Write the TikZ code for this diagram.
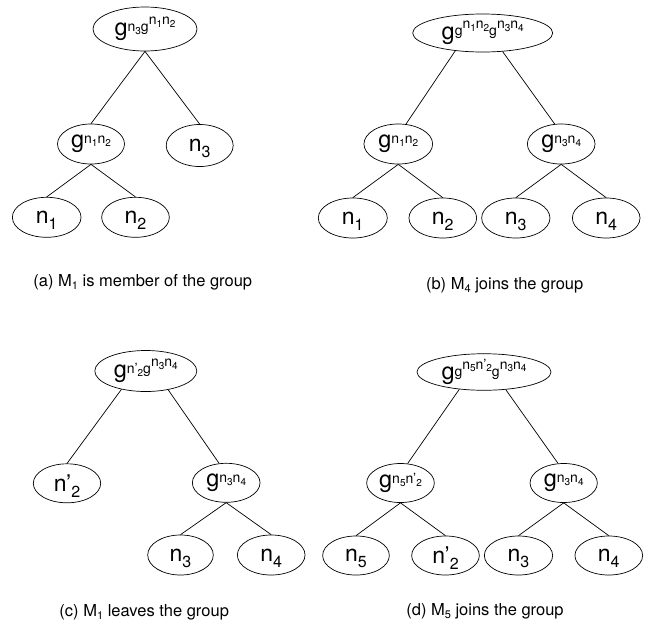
\documentclass[tikz,border=0pt]{standalone}
\usepackage{fontspec}
\setmainfont{TeX Gyre Heros}
\usetikzlibrary{shapes.geometric}
\newcommand\fBig{\fontsize{23.5}{23.5}\selectfont}
\newcommand\fSup{\fontsize{14}{14}\selectfont}
\newcommand\fTiny{\fontsize{10}{10}\selectfont}
\newcommand\fLeaf{\fontsize{23}{23}\selectfont}
\newcommand\fLsub{\fontsize{16}{16}\selectfont}
\newcommand\fCap{\fontsize{16.5}{16.5}\selectfont}
\newcommand\tsb[1]{\raisebox{-2.5pt}{\fTiny #1}}
\newcommand\lsb[1]{\raisebox{-6pt}{\fLsub #1}}
\newcommand\csb[1]{\raisebox{-3pt}{\fontsize{11}{11}\selectfont #1}}
\newcommand\prm{\textquoteright}
\newcommand\lvlB[1]{\raisebox{7pt}{\fSup #1}}
\tikzset{
  ell/.style 2 args={draw, ellipse, inner sep=0pt, line width=0.7pt,
    minimum width=#1pt, minimum height=#2pt},
  leaf/.style={text depth=0pt, font=\fLeaf},
  caplabel/.style={anchor=base, inner sep=0pt, font=\fCap},
  edge/.style={line width=0.7pt}
}
\begin{document}
\begin{tikzpicture}[x=1pt, y=-1pt]
\useasboundingbox (0,0) rectangle (657,625);
% ---------- (a)
\node[ell={104}{44}] (ra) at (145,29) {{\fBig g}\raisebox{3.5pt}{\fSup n\tsb{3}g\lvlB{n\tsb{1}n\tsb{2}}}};
\node[ell={67}{40}] (ga) at (91,144) {{\fBig g}\raisebox{4pt}{\fSup n\tsb{1}n\tsb{2}}};
\node[ell={67}{42}, leaf] (n3a) at (199.7,145.5) {n\lsb{3}};
\node[ell={68.7}{40}, leaf] (n1a) at (46.7,217.3) {n\lsb{1}};
\node[ell={67.7}{40}, leaf] (n2a) at (135.5,217.3) {n\lsb{2}};
\draw[edge] (ra.south) -- (ga.north);
\draw[edge] (ra.south) -- (n3a.north);
\draw[edge] (ga.south) -- (n1a.north);
\draw[edge] (ga.south) -- (n2a.north);
\node[caplabel] (capa) at (142.8,286) {(a) M\csb{1} is member of the group};
% ---------- (b)
\node[ell={140}{38}] (rb) at (482.7,33) {{\fBig g}\raisebox{3.5pt}{\fSup g\lvlB{n\tsb{1}n\tsb{2}}g\lvlB{n\tsb{3}n\tsb{4}}}};
\node[ell={68.7}{40}] (gb1) at (398.3,144) {{\fBig g}\raisebox{4pt}{\fSup n\tsb{1}n\tsb{2}}};
\node[ell={67.7}{40}] (gb2) at (561.2,144) {{\fBig g}\raisebox{4pt}{\fSup n\tsb{3}n\tsb{4}}};
\node[ell={69}{40}, leaf] (n1b) at (352.8,218) {n\lsb{1}};
\node[ell={67.7}{40}, leaf] (n2b) at (442.8,218) {n\lsb{2}};
\node[ell={68.3}{40}, leaf] (n3b) at (515.8,218) {n\lsb{3}};
\node[ell={67.7}{40}, leaf] (n4b) at (606.2,218) {n\lsb{4}};
\draw[edge] (rb.213.7) -- (gb1.69);
\draw[edge] (rb.317.8) -- (gb2.108);
\draw[edge] (gb1.south) -- (n1b.north);
\draw[edge] (gb1.south) -- (n2b.north);
\draw[edge] (gb2.south) -- (n3b.north);
\draw[edge] (gb2.south) -- (n4b.north);
\node[caplabel] (capb) at (504.7,289) {(b) M\csb{4} joins the group};
% ---------- (c)
\node[ell={102}{41}] (rc) at (145.8,371) {{\fBig g}\raisebox{3.5pt}{\fSup n\prm\tsb{2}g\lvlB{n\tsb{3}n\tsb{4}}}};
\node[ell={67.4}{39}, leaf] (n2c) at (67,483.3) {n\prm\lsb{2}};
\node[ell={67.7}{39}] (gc) at (226.2,482.8) {{\fBig g}\raisebox{4pt}{\fSup n\tsb{3}n\tsb{4}}};
\node[ell={65.6}{40}, leaf] (n3c) at (180.5,555) {n\lsb{3}};
\node[ell={67.7}{40}, leaf] (n4c) at (271.2,555) {n\lsb{4}};
\draw[edge] (rc.217) -- (n2c.north);
\draw[edge] (rc.320) -- (gc.110);
\draw[edge] (gc.south) -- (n3c.north);
\draw[edge] (gc.south) -- (n4c.north);
\node[caplabel] (capc) at (144.2,616.5) {(c) M\csb{1} leaves the group};
% ---------- (d)
\node[ell={134}{36}] (rd) at (484,372) {{\fBig g}\raisebox{3.5pt}{\fSup g\lvlB{n\tsb{5}n\prm\tsb{2}}g\lvlB{n\tsb{3}n\tsb{4}}}};
\node[ell={67.7}{39}] (gd1) at (400.5,483) {{\fBig g}\raisebox{4pt}{\fSup n\tsb{5}n\prm\tsb{2}}};
\node[ell={67.3}{39}] (gd2) at (563.7,483) {{\fBig g}\raisebox{4pt}{\fSup n\tsb{3}n\tsb{4}}};
\node[ell={66.7}{39}, leaf] (n5d) at (356,555.5) {n\lsb{5}};
\node[ell={67.7}{39}, leaf] (n2d) at (445.5,555.5) {n\prm\lsb{2}};
\node[ell={68.3}{39}, leaf] (n3d) at (518.5,555.5) {n\lsb{3}};
\node[ell={67.7}{39}, leaf] (n4d) at (608.8,555.5) {n\lsb{4}};
\draw[edge] (rd.215) -- (gd1.70);
\draw[edge] (rd.321.6) -- (gd2.106.5);
\draw[edge] (gd1.south) -- (n5d.north);
\draw[edge] (gd1.south) -- (n2d.north);
\draw[edge] (gd2.south) -- (n3d.north);
\draw[edge] (gd2.south) -- (n4d.north);
\node[caplabel] (capd) at (485,615) {(d) M\csb{5} joins the group};
\end{tikzpicture}
\end{document}
